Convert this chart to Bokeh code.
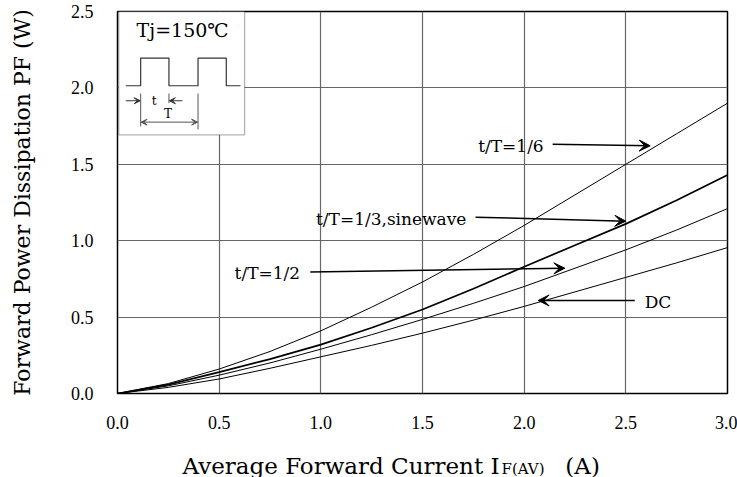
import math
from bokeh.plotting import figure
from bokeh.models import (Range1d, FixedTicker, Label, Arrow, VeeHead, BoxAnnotation,
                          PrintfTickFormatter)
from bokeh.embed import file_html
from bokeh.resources import INLINE

# ---- data ----
current = [0, 0.25, 0.5, 0.75, 1.0, 1.25, 1.5, 1.75, 2.0, 2.25, 2.5, 2.75, 3.0]
p_t16 = [0, 0.065, 0.16, 0.275, 0.41, 0.565, 0.73, 0.91, 1.10, 1.30, 1.50, 1.70, 1.90]
p_t13 = [0, 0.058, 0.14, 0.225, 0.32, 0.43, 0.55, 0.685, 0.83, 0.97, 1.11, 1.265, 1.43]
p_t12 = [0, 0.05, 0.12, 0.20, 0.29, 0.385, 0.485, 0.59, 0.70, 0.82, 0.94, 1.07, 1.21]
p_dc = [0, 0.04, 0.095, 0.165, 0.24, 0.315, 0.395, 0.48, 0.57, 0.665, 0.76, 0.855, 0.955]

x_ticks = [0.0, 0.5, 1.0, 1.5, 2.0, 2.5, 3.0]
x_tick_labels = ["0.0", "0.5", "1.0", "1.5", "2.0", "2.5", "3.0"]
y_ticks = [0.0, 0.5, 1.0, 1.5, 2.0, 2.5]
y_tick_labels = ["0.0", "0.5", "1.0", "1.5", "2.0", "2.5"]

x_title_main = "Average Forward Current I"
x_title_sub = "F(AV)"
x_title_unit = "(A)"
y_title = "Forward Power Dissipation PF (W)"

SERIF = "DejaVu Serif"
TICKF = "Liberation Sans Narrow"

p = figure(width=737, height=477, x_range=Range1d(0, 3), y_range=Range1d(0, 2.5),
           min_border_left=117, min_border_right=10, min_border_top=11, min_border_bottom=84,
           output_backend="svg", toolbar_location=None)
p.outline_line_color = "black"
p.outline_line_width = 1.5
p.background_fill_color = "white"
p.border_fill_color = "white"

for ax, ticks, labels in [(p.xaxis, x_ticks, x_tick_labels), (p.yaxis, y_ticks, y_tick_labels)]:
    ax.ticker = FixedTicker(ticks=ticks)
    ax.formatter = PrintfTickFormatter(format="%.1f")
    ax.major_label_overrides = dict(zip(ticks, labels))
    ax.axis_line_color = None
    ax.major_tick_line_color = None
    ax.minor_tick_line_color = None
    ax.major_tick_out = 0
    ax.major_tick_in = 0
    ax.major_label_text_font = TICKF
    ax.major_label_text_font_size = "18px"
    ax.major_label_text_color = "black"

p.xaxis.major_label_standoff = 22
p.yaxis.major_label_standoff = 24
p.yaxis.axis_label = y_title
p.yaxis.axis_label_text_font = SERIF
p.yaxis.axis_label_text_font_size = "22px"
p.yaxis.axis_label_text_font_style = "normal"
p.yaxis.axis_label_text_color = "black"
p.yaxis.axis_label_standoff = 33

for g in (p.xgrid, p.ygrid):
    g.grid_line_color = "#666666"
    g.grid_line_width = 1.2

# curves
p.line(current, p_t16, line_color="black", line_width=1.0)
p.line(current, p_t13, line_color="black", line_width=1.7)
p.line(current, p_t12, line_color="black", line_width=1.0)
p.line(current, p_dc, line_color="black", line_width=1.0)

# x-axis title with subscript, placed in the bottom panel
gap = "\u00a0" * 9
p.add_layout(Label(x=0, y=0, text=x_title_main + gap + x_title_unit, x_offset=65, y_offset=-72,
                   text_align="left", text_baseline="alphabetic",
                   text_font=SERIF, text_font_size="23px", text_color="black"), "below")
p.add_layout(Label(x=0, y=0, text=x_title_sub, x_offset=384, y_offset=-75,
                   text_align="left", text_baseline="alphabetic",
                   text_font=SERIF, text_font_size="15px", text_color="black"), "below")

# curve annotations
def note(x, y, txt, align):
    p.add_layout(Label(x=x, y=y, text=txt, text_align=align, text_baseline="middle",
                       text_font=SERIF, text_font_size="17px", text_color="black"))

def arrow(x0, y0, x1, y1):
    p.add_layout(Arrow(x_start=x0, y_start=y0, x_end=x1, y_end=y1, line_width=1.5,
                       line_color="black",
                       end=VeeHead(size=11, fill_color="black", line_color="black", line_width=1)))

note(2.096, 1.617, "t/T=1/6", "right")
arrow(2.14, 1.632, 2.62, 1.621)
note(1.716, 1.143, "t/T=1/3,sinewave", "right")
arrow(1.761, 1.154, 2.50, 1.128)
note(0.898, 0.788, "t/T=1/2", "right")
arrow(0.948, 0.795, 2.20, 0.82)
note(2.593, 0.602, "DC", "left")
arrow(2.544, 0.609, 2.069, 0.609)

# inset diagram
p.add_layout(BoxAnnotation(left=0.006, right=0.625, bottom=1.692, top=2.5,
                           fill_color="white", fill_alpha=1.0,
                           line_color="black", line_width=1.3, level="underlay"))
p.add_layout(Label(x=0.32, y=2.38, text="Tj=150\u2103", text_align="center",
                   text_baseline="middle", text_font=SERIF, text_font_size="19px",
                   text_color="black"))
wave_x = [0.041, 0.114, 0.114, 0.253, 0.253, 0.396, 0.396, 0.535, 0.535, 0.605]
wave_y = [2.014, 2.014, 2.195, 2.195, 2.014, 2.014, 2.195, 2.195, 2.014, 2.014]
p.line(wave_x, wave_y, line_color="#333333", line_width=1.2)
p.segment(x0=[0.114, 0.253, 0.396], y0=[1.963, 1.963, 1.963],
          x1=[0.114, 0.253, 0.396], y1=[1.748, 1.90, 1.728],
          line_color="#555555", line_width=1)
for xs, xe in [(0.041, 0.112), (0.319, 0.255)]:
    p.add_layout(Arrow(x_start=xs, y_start=1.916, x_end=xe, y_end=1.916, line_width=1,
                       line_color="#333333",
                       end=VeeHead(size=6, fill_color="#333333", line_color="#333333")))
p.add_layout(Arrow(x_start=0.116, y_start=1.776, x_end=0.394, y_end=1.776, line_width=1,
                   line_color="#555555",
                   start=VeeHead(size=6, fill_color="#555555", line_color="#555555"),
                   end=VeeHead(size=6, fill_color="#555555", line_color="#555555")))
p.add_layout(Label(x=0.18, y=1.916, text="t", text_align="center", text_baseline="middle",
                   text_font=SERIF, text_font_size="12px", text_color="black"))
p.add_layout(Label(x=0.248, y=1.829, text="T", text_align="center", text_baseline="middle",
                   text_font=SERIF, text_font_size="12px", text_color="black"))

open("out.html", "w").write(file_html(p, INLINE))
